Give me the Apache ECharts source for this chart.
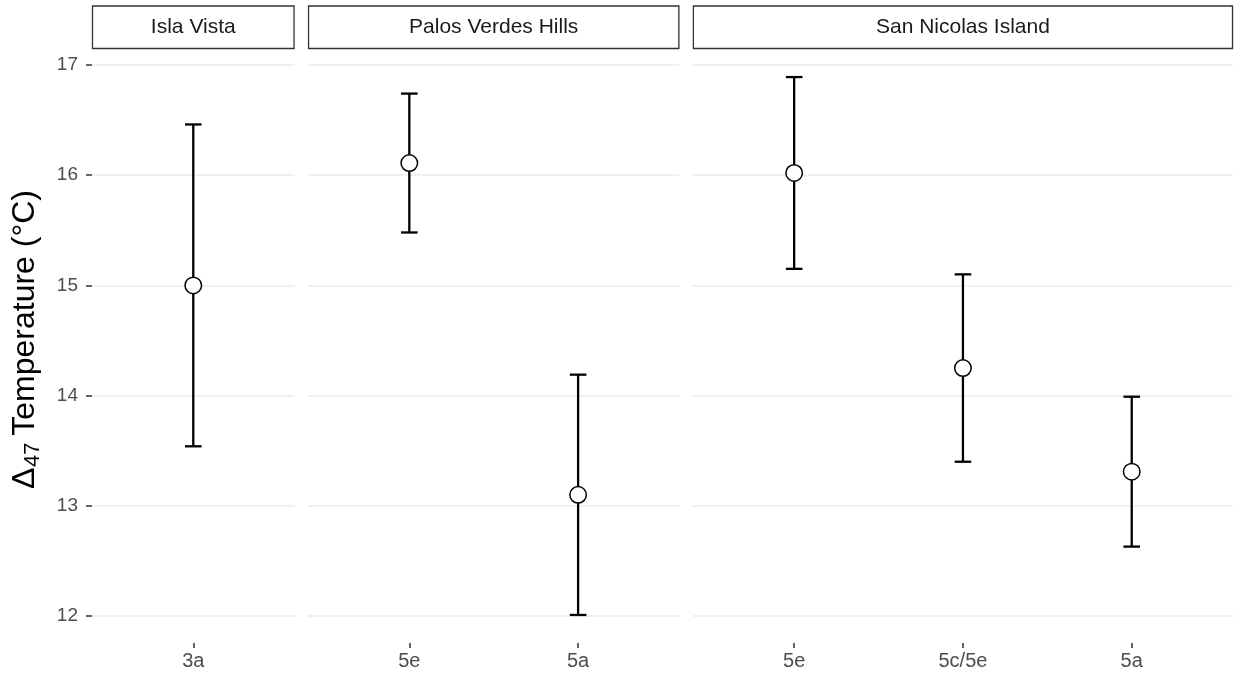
<!DOCTYPE html>
<html>
<head>
<meta charset="utf-8">
<title>Δ47 Temperature by site</title>
<script src="https://cdn.jsdelivr.net/npm/echarts@6/dist/echarts.min.js"></script>
<style>
  html, body { margin: 0; padding: 0; background: #ffffff; }
  #chart { width: 1236px; height: 677px; }
</style>
</head>
<body>
<div id="chart"></div>
<script>
// Sites shown as facets, left to right
const siteNames = ['Isla Vista', 'Palos Verdes Hills', 'San Nicolas Island'];
// One entry per sample: facet index, unit label, mean and error-bar limits (°C)
const sampleSite = [0, 1, 1, 2, 2, 2];
const sampleUnit = ['3a', '5e', '5a', '5e', '5c/5e', '5a'];
const meanT = [15.00, 16.11, 13.10, 16.02, 14.25, 13.31];
const lowT  = [13.54, 15.48, 12.01, 15.15, 13.40, 12.63];
const highT = [16.46, 16.74, 14.19, 16.89, 15.10, 13.99];
const yTicks = [12, 13, 14, 15, 16, 17];

// Layout of the facet panels
const plotLeft = 92, plotRight = 1233, panelGap = 13.5;
const panelTop = 49, panelBottom = 643;
const stripTop = 6;
const pad = 0.6; // discrete-axis padding on each side, in category units

const yMin = 11.7555, yMax = 17.1445;

const chart = echarts.init(document.getElementById('chart'), null, { renderer: 'canvas' });

// Categories of each facet
const facetUnits = siteNames.map((_, s) => sampleUnit.filter((_, i) => sampleSite[i] === s));
const totalUnits = facetUnits.reduce((a, u) => a + u.length - 1 + 2 * pad, 0);
const unitPx = (plotRight - plotLeft - panelGap * (siteNames.length - 1)) / totalUnits;

const grids = [], xAxes = [], yAxes = [], series = [], graphics = [];
let x0 = plotLeft;
siteNames.forEach((name, s) => {
  const units = facetUnits[s];
  const w = (units.length - 1 + 2 * pad) * unitPx;
  grids.push({ left: x0, top: panelTop, width: w, height: panelBottom - panelTop, containLabel: false });

  const idx = units.map((_, k) => k);
  xAxes.push({
    type: 'value', gridIndex: s, position: 'bottom',
    min: -pad, max: units.length - 1 + pad,
    axisLine: { show: false, onZero: false },
    splitLine: { show: false },
    axisTick: { show: true, customValues: idx, length: 5, lineStyle: { color: '#333333', width: 1.5 } },
    axisLabel: {
      show: true, customValues: idx, margin: 8,
      formatter: v => units[Math.round(v)],
      color: '#4D4D4D', fontSize: 20, fontFamily: 'Liberation Sans, Arial, sans-serif'
    }
  });
  yAxes.push({
    type: 'value', gridIndex: s, position: 'left', min: yMin, max: yMax,
    axisLine: { show: false, onZero: false },
    axisTick: { show: s === 0, customValues: yTicks, length: 6, lineStyle: { color: '#333333', width: 1.5 } },
    axisLabel: {
      show: s === 0, customValues: yTicks, margin: 14,
      color: '#4D4D4D', fontSize: 19, fontFamily: 'Liberation Sans, Arial, sans-serif'
    },
    splitLine: { show: true, lineStyle: { color: '#EBEBEB', width: 1.6 } }
  });

  // Error bars for this facet
  const rows = [];
  sampleUnit.forEach((u, i) => {
    if (sampleSite[i] === s) rows.push([units.indexOf(u), lowT[i], highT[i], meanT[i]]);
  });
  series.push({
    type: 'custom', xAxisIndex: s, yAxisIndex: s, z: 2,
    data: rows,
    renderItem: (params, api) => {
      const x = api.value(0);
      const lo = api.coord([x, api.value(1)]);
      const hi = api.coord([x, api.value(2)]);
      const hw = 8.3;
      const style = { stroke: '#000000', lineWidth: 2.3, fill: null };
      return {
        type: 'group',
        children: [
          { type: 'line', shape: { x1: lo[0], y1: lo[1], x2: hi[0], y2: hi[1] }, style },
          { type: 'line', shape: { x1: lo[0] - hw, y1: lo[1], x2: lo[0] + hw, y2: lo[1] }, style },
          { type: 'line', shape: { x1: hi[0] - hw, y1: hi[1], x2: hi[0] + hw, y2: hi[1] }, style }
        ]
      };
    }
  });
  // Mean points
  series.push({
    type: 'scatter', xAxisIndex: s, yAxisIndex: s, z: 3,
    symbol: 'circle', symbolSize: 16.5,
    itemStyle: { color: '#FFFFFF', borderColor: '#000000', borderWidth: 1.5, opacity: 1 },
    data: rows.map(r => [r[0], r[3]]),
    silent: true
  });

  // Facet strip
  graphics.push({
    type: 'rect', silent: true, z: 10,
    shape: { x: x0 + 0.5, y: stripTop, width: w - 1, height: panelTop - stripTop - 0.5 },
    style: { fill: '#FFFFFF', stroke: '#333333', lineWidth: 1.3 }
  });
  graphics.push({
    type: 'text', silent: true, z: 11,
    x: x0 + w / 2, y: (stripTop + panelTop) / 2,
    style: {
      text: name, fill: '#1A1A1A', fontSize: 21,
      fontFamily: 'Liberation Sans, Arial, sans-serif',
      align: 'center', verticalAlign: 'middle'
    }
  });

  x0 += w + panelGap;
});

// Y-axis title, rotated, with subscripted 47
const titleFont = 'Liberation Sans, Arial, sans-serif';
graphics.push({
  type: 'group', x: 25, y: 340, rotation: Math.PI / 2, silent: true,
  children: [
    { type: 'text', x: -149, y: 0, style: { text: 'Δ', fontSize: 32, fontFamily: titleFont, fill: '#000000', align: 'left', verticalAlign: 'middle' } },
    { type: 'text', x: -127, y: 8, style: { text: '47', fontSize: 22, fontFamily: titleFont, fill: '#000000', align: 'left', verticalAlign: 'middle' } },
    { type: 'text', x: 150, y: 0, style: { text: 'Temperature (°C)', fontSize: 32, fontFamily: titleFont, fill: '#000000', align: 'right', verticalAlign: 'middle' } }
  ]
});

chart.setOption({
  backgroundColor: '#FFFFFF',
  animation: false,
  grid: grids,
  xAxis: xAxes,
  yAxis: yAxes,
  series: series,
  graphic: graphics
});
</script>
</body>
</html>
